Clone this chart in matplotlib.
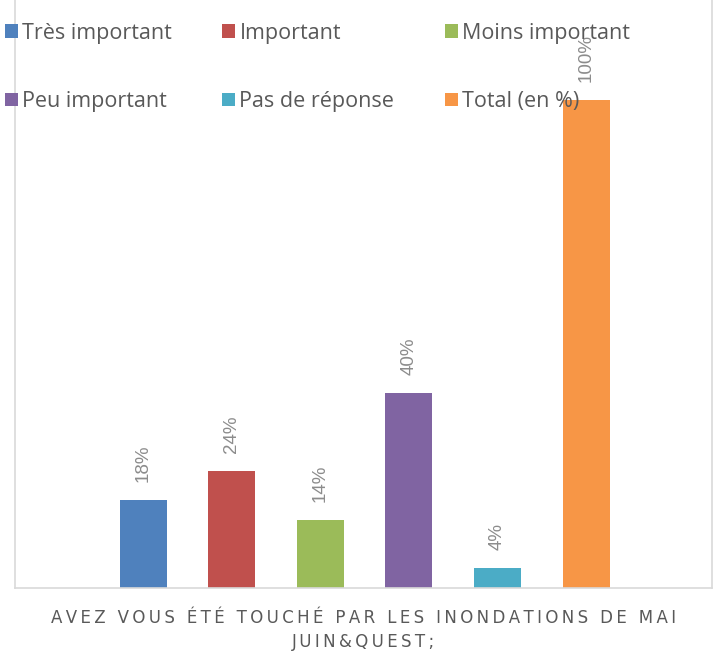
import matplotlib.pyplot as plt

# data
categories = ["Très important", "Important", "Moins important",
              "Peu important", "Pas de réponse", "Total (en %)"]
values = [18, 24, 14, 40, 4, 100]
labels = ["18%", "24%", "14%", "40%", "4%", "100%"]
colors = ["#4F81BD", "#C0504D", "#9BBB59", "#8064A2", "#4BACC6", "#F79646"]
xlabel = "AVEZ VOUS ÉTÉ TOUCHÉ PAR LES INONDATIONS DE MAI\nJUIN&QUEST;"

plt.rcParams["font.family"] = ["Open Sans", "DejaVu Sans"]

W, H = 715, 654
fig = plt.figure(figsize=(W / 100, H / 100), dpi=100)
# axes box in pixel coords: left 15, right 712, top 0, bottom 588
ax = fig.add_axes([15 / W, (H - 588) / H, (712 - 15) / W, 588 / H])

x = list(range(len(values)))
bars = ax.bar(x, values, width=0.53, color=colors, label=categories, zorder=2)

ax.set_xlim(-1.445, 6.42)
ax.set_ylim(0, 120.5)
ax.set_xticks([])
ax.set_yticks([])
for side in ["left", "right", "bottom"]:
    ax.spines[side].set_color("#D9D9D9")
    ax.spines[side].set_linewidth(1.2)
ax.spines["top"].set_visible(False)

# rotated value labels above bars
for xi, v, lab in zip(x, values, labels):
    ax.annotate(lab, (xi, v), xytext=(0, 13), textcoords="offset points",
                rotation=90, ha="center", va="bottom", fontsize=13.5,
                color="#8C8C8C", family=["Liberation Sans", "DejaVu Sans"])

# legend, 3 columns x 2 rows (row-wise order)
order = [0, 3, 1, 4, 2, 5]
handles = [bars[i] for i in order]
leg = ax.legend(handles, [categories[i] for i in order], ncol=3,
                loc="upper left", bbox_to_anchor=(-19 / 697, 1 - 14 / 588),
                frameon=False, fontsize=15.5, handlelength=0.6, handleheight=0.6,
                handletextpad=0.2, columnspacing=2.35, labelspacing=2.2,
                borderaxespad=0)
for t in leg.get_texts():
    t.set_color("#595959")

# spaced-out axis title
spaced = "\n".join("\u2009".join(line) for line in xlabel.split("\n"))
fig.text(364 / W, 1 - 630 / H, spaced, ha="center", va="center",
         fontsize=12, color="#595959", linespacing=1.45,
         family=["DejaVu Sans"])

fig.savefig("out.png", dpi=100)
